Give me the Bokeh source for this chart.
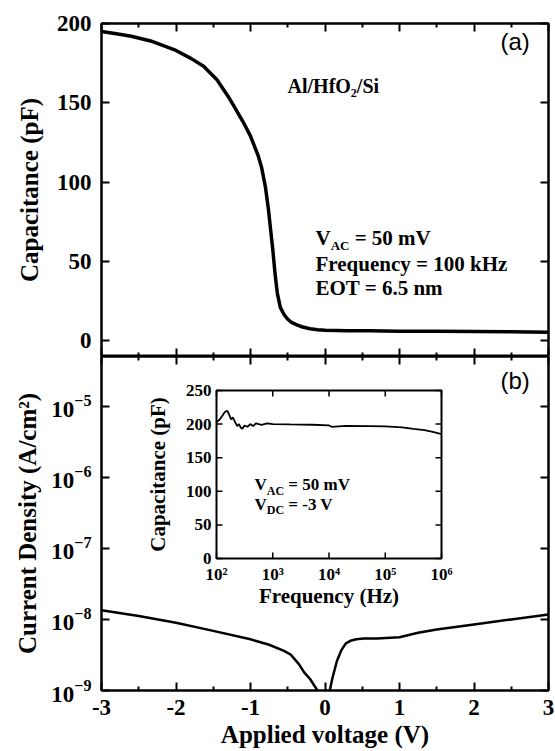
import math
from bokeh.plotting import figure
from bokeh.layouts import column
from bokeh.models import (Range1d, LinearAxis, LogAxis, FixedTicker, Label,
                          CustomJSTickFormatter, LogTickFormatter, LogScale, LinearScale)
from bokeh.embed import file_html
from bokeh.resources import INLINE

# ---------------- data ----------------
cv_voltage = [-3.0, -2.8, -2.6, -2.34, -2.0, -1.8, -1.63, -1.45, -1.3, -1.22, -1.1, -1.0,
              -0.9, -0.85, -0.8, -0.78, -0.76, -0.73, -0.7, -0.67, -0.64, -0.6, -0.55, -0.5,
              -0.45, -0.37, -0.3, -0.2, -0.1, 0.0, 0.3, 0.6, 1.0, 1.5, 2.0, 2.5, 3.0]
cv_capacitance = [195, 193.5, 192, 189, 183, 178, 173, 164.5, 154, 147.7, 138, 129,
                  117, 109, 97, 90, 83, 70, 57, 42, 30, 21, 16.5, 13.5,
                  11.5, 9.8, 8.6, 7.5, 6.9, 6.6, 6.3, 6.2, 6.0, 5.9, 5.7, 5.6, 5.3]

jv_voltage = [-3.0, -2.5, -2.0, -1.5, -1.0, -0.75, -0.55, -0.46, -0.4, -0.35, -0.28, -0.2,
              -0.15, -0.1, -0.05, 0.0, 0.04, 0.064, 0.1, 0.16, 0.22, 0.28, 0.34, 0.42,
              0.52, 0.7, 1.0, 1.25, 1.5, 2.0, 2.5, 3.0]
jv_current = [1.35e-8, 1.12e-8, 9.0e-9, 6.9e-9, 5.25e-9, 4.4e-9, 3.6e-9, 3.2e-9, 2.7e-9, 2.35e-9,
              1.8e-9, 1.45e-9, 1.2e-9, 1.0e-9, 5e-10, 3e-10, 6.3e-10, 1.0e-9, 1.5e-9, 2.6e-9,
              3.7e-9, 4.6e-9, 5.0e-9, 5.25e-9, 5.4e-9, 5.4e-9, 5.6e-9, 6.5e-9, 7.2e-9, 8.5e-9,
              1.0e-8, 1.17e-8]

inset_frequency = [100, 112, 126, 141, 155, 166, 182, 195, 214, 234, 251, 269, 288, 316, 355,
                   398, 447, 501, 631, 794, 1000, 2000, 5000, 10000, 11200, 20000, 50000,
                   100000, 200000, 316000, 500000, 700000, 1000000]
inset_capacitance = [203, 206, 212, 218, 220, 215, 207, 210, 203, 197, 200, 195, 193, 198, 196,
                     200, 197, 201, 199, 201, 200, 199.5, 199, 198, 196, 197.5, 197,
                     196.5, 195, 193, 191, 188.5, 185]

x_ticks = [-3, -2, -1, 0, 1, 2, 3]
x_minor_ticks = [-2.5, -1.5, -0.5, 0.5, 1.5, 2.5]
cap_ticks = [0, 50, 100, 150, 200]
j_ticks = [1e-9, 1e-8, 1e-7, 1e-6, 1e-5]
inset_f_ticks = [1e2, 1e3, 1e4, 1e5, 1e6]
inset_f_labels = ["10²", "10³", "10⁴", "10⁵", "10⁶"]
inset_c_ticks = [0, 50, 100, 150, 200, 250]
inset_c_labels = ["0", "50", "100", "150", "200", "250"]

SERIF = "Liberation Serif"
SANS = "Liberation Sans"

# ---------------- layout constants (pixels) ----------------
FRAME_L, FRAME_W = 101, 447
TOP_FRAME_H, BOT_FRAME_H = 333, 334
INSET_BOX = dict(left=216, right=441, top=390, bottom=558)  # page pixels
BOT_FRAME_TOP = 23 + TOP_FRAME_H
BOT_FRAME_BOTTOM = BOT_FRAME_TOP + BOT_FRAME_H

EMPTY = "return '';"
PLAIN = "return String(tick);"


def style_axis(ax, ticks, minor=(), labels=True, size="23px", standoff=9):
    ax.ticker = FixedTicker(ticks=list(ticks), minor_ticks=list(minor))
    ax.axis_line_width = 2
    ax.axis_line_color = "black"
    ax.major_tick_in = 8
    ax.major_tick_out = 0
    ax.minor_tick_in = 4
    ax.minor_tick_out = 0
    ax.major_tick_line_width = 2
    ax.minor_tick_line_width = 2
    ax.major_tick_line_color = "black"
    ax.minor_tick_line_color = "black"
    ax.major_label_text_font = SERIF
    ax.major_label_text_font_style = "bold"
    ax.major_label_text_color = "black"
    if labels:
        ax.major_label_text_font_size = size
        ax.major_label_standoff = standoff
        ax.formatter = CustomJSTickFormatter(code=PLAIN)
    else:
        ax.major_label_text_font_size = "1px"
        ax.major_label_standoff = 0
        ax.formatter = CustomJSTickFormatter(code=EMPTY)
    ax.axis_label_text_font = SERIF
    ax.axis_label_text_font_style = "bold"
    ax.axis_label_text_font_size = "25px"
    ax.axis_label_text_color = "black"
    return ax


def lab(p, x, y, text, size, font=SERIF, style="bold", align="left",
        baseline="alphabetic", xo=0, yo=0, angle=0, xr=None, yr=None):
    kw = dict(x=x, y=y, text=text, text_font=font, text_font_size=size,
              text_font_style=style, text_align=align, text_baseline=baseline,
              x_offset=xo, y_offset=yo, angle=angle, text_color="black")
    if xr:
        kw["x_range_name"] = xr
    if yr:
        kw["y_range_name"] = yr
    p.add_layout(Label(**kw))


def vsub(p, x, y, sub, rest, size, subsize, drop, xr=None, yr=None):
    vw = 0.722 * size
    sw = 1.444 * subsize
    lab(p, x, y, "V", f"{size}px", xr=xr, yr=yr)
    lab(p, x, y, sub, f"{subsize}px", xo=vw, yo=-drop, xr=xr, yr=yr)
    lab(p, x, y, rest, f"{size}px", xo=vw + sw + 0.25 * size, xr=xr, yr=yr)


xr = Range1d(-3, 3)

# ---------------- top panel (a) ----------------
p1 = figure(frame_width=FRAME_W, frame_height=TOP_FRAME_H, x_range=xr,
            y_range=Range1d(-10, 200), output_backend="svg", toolbar_location=None,
            x_axis_location=None, y_axis_location=None,
            min_border_left=FRAME_L, min_border_right=7, min_border_top=23,
            min_border_bottom=0)
p1.grid.visible = False
p1.outline_line_color = "black"
p1.outline_line_width = 2
p1.background_fill_color = "white"
p1.border_fill_color = "white"

ax = style_axis(LinearAxis(), cap_ticks, standoff=10)
ax.axis_label = "Capacitance (pF)"
ax.axis_label_standoff = 11
p1.add_layout(ax, "left")
p1.add_layout(style_axis(LinearAxis(), cap_ticks, labels=False), "right")
p1.add_layout(style_axis(LinearAxis(), x_ticks, x_minor_ticks, labels=False), "above")
p1.add_layout(style_axis(LinearAxis(), x_ticks, x_minor_ticks, labels=False), "below")

p1.line(cv_voltage, cv_capacitance, line_color="black", line_width=3.5, line_join="round")

lab(p1, -0.503, 160.5, "Al/HfO₂/Si", "20px")
vsub(p1, -0.128, 64.6, "AC", "= 50 mV", 21, 13, 7)
lab(p1, -0.128, 48.1, "Frequency = 100 kHz", "21px")
lab(p1, -0.128, 32.9, "EOT = 6.5 nm", "21px")
lab(p1, 2.356, 188.6, "(a)", "24px", font=SANS, style="normal", baseline="middle")

# ---------------- bottom panel (b) ----------------
p2 = figure(frame_width=FRAME_W, frame_height=BOT_FRAME_H, x_range=xr,
            y_range=Range1d(1e-9, 10 ** -4.3), y_axis_type="log",
            output_backend="svg", toolbar_location=None,
            x_axis_location=None, y_axis_location=None,
            min_border_left=FRAME_L, min_border_right=7, min_border_top=0,
            min_border_bottom=61)
p2.grid.visible = False
p2.outline_line_color = "black"
p2.outline_line_width = 2
p2.background_fill_color = "white"
p2.border_fill_color = "white"

ay = style_axis(LogAxis(), j_ticks, standoff=10)
ay.formatter = LogTickFormatter()
ay.axis_label = "Current Density (A/cm²)"
ay.axis_label_standoff = 7
p2.add_layout(ay, "left")
p2.add_layout(style_axis(LogAxis(), j_ticks, labels=False), "right")
p2.add_layout(style_axis(LinearAxis(), x_ticks, x_minor_ticks, labels=False), "above")
axb = style_axis(LinearAxis(), x_ticks, x_minor_ticks, standoff=9)
axb.axis_label = "Applied voltage (V)"
axb.axis_label_standoff = 3
p2.add_layout(axb, "below")

p2.line(jv_voltage, jv_current, line_color="black", line_width=2.5, line_join="round")
lab(p2, 2.356, 10 ** -4.634, "(b)", "24px", font=SANS, style="normal", baseline="middle")

# ---------------- inset (drawn in extra ranges of the bottom panel) ----------------
fl = (INSET_BOX["left"] - FRAME_L) / FRAME_W
fr = (INSET_BOX["right"] - FRAME_L) / FRAME_W
span_f = (math.log10(inset_f_ticks[-1]) - math.log10(inset_f_ticks[0])) / (fr - fl)
lf0 = math.log10(inset_f_ticks[0]) - fl * span_f
fb = (BOT_FRAME_BOTTOM - INSET_BOX["bottom"]) / BOT_FRAME_H
ft = (BOT_FRAME_BOTTOM - INSET_BOX["top"]) / BOT_FRAME_H
span_c = (inset_c_ticks[-1] - inset_c_ticks[0]) / (ft - fb)
c0 = inset_c_ticks[0] - fb * span_c

p2.extra_x_ranges = {"freq": Range1d(10 ** lf0, 10 ** (lf0 + span_f))}
p2.extra_x_scales = {"freq": LogScale()}
p2.extra_y_ranges = {"cin": Range1d(c0, c0 + span_c)}
p2.extra_y_scales = {"cin": LinearScale()}
IN = dict(x_range_name="freq", y_range_name="cin")

fmin, fmax = inset_f_ticks[0], inset_f_ticks[-1]
cmin, cmax = inset_c_ticks[0], inset_c_ticks[-1]
p2.quad(left=[fmin], right=[fmax], bottom=[cmin], top=[cmax], fill_color="white",
        line_color=None, **IN)
# ticks (inward, in screen pixels)
n = len(inset_f_ticks)
p2.ray(x=inset_f_ticks, y=[cmin] * n, length=6, length_units="screen", angle=math.pi / 2,
       line_color="black", line_width=1.5, **IN)
p2.ray(x=inset_f_ticks, y=[cmax] * n, length=6, length_units="screen", angle=-math.pi / 2,
       line_color="black", line_width=1.5, **IN)
m = len(inset_c_ticks)
p2.ray(x=[fmin] * m, y=inset_c_ticks, length=6, length_units="screen", angle=0,
       line_color="black", line_width=1.5, **IN)
p2.ray(x=[fmax] * m, y=inset_c_ticks, length=6, length_units="screen", angle=math.pi,
       line_color="black", line_width=1.5, **IN)
p2.line(inset_frequency, inset_capacitance, line_color="black", line_width=1.8, **IN)
p2.quad(left=[fmin], right=[fmax], bottom=[cmin], top=[cmax], fill_color=None,
        line_color="black", line_width=2, **IN)

for f, t in zip(inset_f_ticks, inset_f_labels):
    lab(p2, f, cmin, t, "17px", align="center", baseline="top", yo=-6, xr="freq", yr="cin")
for c, t in zip(inset_c_ticks, inset_c_labels):
    lab(p2, fmin, c, t, "17px", align="right", baseline="middle", xo=-5, xr="freq", yr="cin")
lab(p2, 10 ** 4, cmin, "Frequency (Hz)", "21px", align="center", baseline="middle",
    yo=-37, xr="freq", yr="cin")
lab(p2, fmin, (cmin + cmax) / 2, "Capacitance (pF)", "21px", align="center",
    baseline="middle", xo=-59, angle=math.pi / 2, xr="freq", yr="cin")
vsub(p2, 473, 110, "AC", "= 50 mV", 17, 12, 6, xr="freq", yr="cin")
vsub(p2, 473, 81, "DC", "= -3 V", 17, 12, 6, xr="freq", yr="cin")

layout = column(p1, p2, spacing=0)
open("out.html", "w").write(file_html(layout, INLINE))
